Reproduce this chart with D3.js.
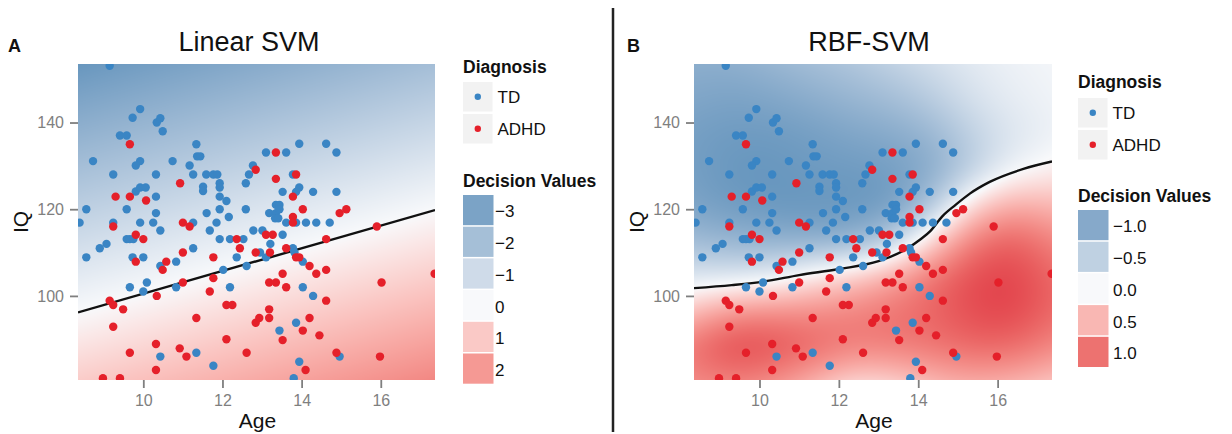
<!DOCTYPE html>
<html>
<head>
<meta charset="utf-8">
<script src="https://cdn.jsdelivr.net/npm/d3@7"></script>
<style>
  body { margin: 0; background: #fff; }
  text { font-family: "Liberation Sans", Arial, Helvetica, sans-serif; }
</style>
</head>
<body>
<div id="chart"></div>
<script>
// ---- data ----
const tdAge = [9.15, 9.92, 9.73, 10.34, 10.43, 10.49, 9.41, 9.58, 8.73, 9.92, 9.81, 10.74, 11.34, 11.36, 11.44,
  11.17, 11.26, 9.24, 10.32, 11.51, 11.51, 11.59, 11.77, 11.87, 11.93, 11.93, 11.93, 12.10, 9.81, 9.92, 10.06,
  10.32, 9.58, 8.56, 10.32, 11.60, 11.93, 12.16, 12.59, 12.67, 12.77, 12.59, 13.10, 13.61, 13.78, 13.52, 13.86,
  13.94, 14.29, 13.35, 13.44, 13.18, 13.35, 13.44, 13.94, 14.62, 14.88, 14.88, 8.39, 9.24, 9.92, 10.25, 10.43,
  11.26, 11.68, 11.85, 12.78, 13.01, 13.52, 13.33, 13.41, 13.61, 13.86, 14.11, 14.37, 14.71, 8.56, 8.90, 9.07,
  9.58, 9.66, 9.75, 9.73, 10.00, 10.43, 10.83, 11.26, 9.66, 10.00, 10.09, 10.83, 12.02, 12.19, 11.93, 12.19,
  12.53, 12.36, 12.61, 12.95, 13.10, 13.21, 13.78, 13.82, 14.03, 14.03, 14.29, 13.44, 13.86, 10.43, 11.34,
  11.77, 13.80, 13.94, 14.96];
const tdIQ = [153.1, 143.1, 141.1, 140.0, 141.0, 138.0, 137.0, 137.0, 131.1, 131.1, 130.1, 131.1, 135.0, 132.2, 132.2,
  130.1, 128.0, 128.0, 128.0, 125.2, 124.2, 128.0, 128.0, 128.0, 126.0, 125.0, 122.9, 121.9, 124.1, 125.0, 125.0,
  122.9, 120.0, 120.0, 119.1, 119.1, 120.0, 118.2, 126.0, 128.0, 130.1, 120.0, 133.1, 133.1, 128.0, 124.0, 124.0,
  125.0, 124.0, 121.0, 121.0, 119.1, 119.1, 120.0, 135.1, 135.1, 133.1, 124.0, 116.9, 116.9, 116.9, 116.9, 115.1,
  116.9, 115.1, 116.9, 115.1, 115.1, 114.1, 117.9, 117.9, 116.9, 116.9, 116.9, 116.9, 116.9, 108.9, 111.0, 112.0,
  113.1, 113.1, 113.1, 108.9, 108.9, 106.9, 107.9, 111.0, 102.0, 101.0, 103.1, 102.0, 106.0, 102.0, 113.1, 113.1,
  113.1, 108.9, 106.9, 110.0, 108.9, 112.0, 111.0, 110.0, 107.9, 102.0, 100.0, 92.0, 93.8, 86.0, 86.9,
  83.9, 81.0, 84.8, 86.0];

const adhdAge = [9.66, 10.93, 9.30, 9.66, 10.07, 12.84, 13.35, 13.35, 13.86, 13.78, 14.03, 13.78, 13.78, 14.96, 15.13,
  9.24, 11.00, 11.17, 13.10, 13.27, 15.90, 9.81, 10.00, 9.81, 10.49, 10.58, 11.00, 10.34, 11.00, 11.68, 11.77,
  11.77, 12.36, 12.44, 12.84, 13.20, 13.61, 13.86, 13.94, 14.20, 14.37, 14.62, 14.62, 13.52, 13.18, 13.35, 13.61,
  14.62, 16.02, 17.36, 9.15, 9.24, 9.49, 9.24, 11.34, 12.10, 12.25, 12.84, 12.93, 13.18, 13.18, 13.52, 14.03,
  14.20, 14.45, 12.10, 9.66, 10.32, 10.92, 11.09, 10.32, 12.61, 8.98, 9.41, 14.10, 14.88, 15.98];
const adhdIQ = [135.0, 126.0, 122.9, 122.9, 122.0, 129.1, 133.1, 127.0, 128.0, 122.9, 120.0, 118.2, 116.9, 119.1, 120.0,
  116.0, 116.9, 116.0, 114.1, 114.1, 116.0, 114.1, 113.1, 107.9, 106.0, 107.9, 110.0, 100.0, 103.1, 101.0, 104.1,
  108.9, 113.1, 111.0, 110.0, 110.0, 111.0, 108.9, 108.9, 106.9, 105.1, 106.0, 113.1, 105.1, 103.1, 103.1, 102.0,
  98.9, 103.1, 105.1, 98.9, 97.9, 96.9, 92.9, 94.9, 97.9, 97.9, 93.8, 94.9, 96.9, 94.9, 89.8, 92.0,
  94.9, 90.9, 90.0, 86.9, 88.9, 87.9, 86.0, 82.9, 86.9, 81.0, 81.0, 82.9, 86.9, 86.0];

// linear SVM decision values at the panel corners (rows: top IQ, bottom IQ)
const linearGridAge = [8.35, 17.37];
const linearGridIQ = [153.5, 80.6];
const linearGrid = [
  [-3.44, -2.02],
  [0.94, 2.35]
];
const linearBoundary = [[8.35, 96.2], [17.37, 119.8]];

// RBF-SVM decision values read on a coarse grid
const rbfGridAge = [8.35, 9.35, 10.35, 11.35, 12.35, 13.35, 14.35, 15.35, 16.35, 17.37];
const rbfGridIQ = [153.5, 145.4, 137.3, 129.2, 121.1, 113.0, 104.9, 96.8, 88.7, 80.6];
const rbfGrid = [
  [-0.95, -0.95, -0.85, -0.75, -0.65, -0.50, -0.35, -0.20, -0.10, -0.05],
  [-1.05, -1.10, -1.05, -0.95, -0.85, -0.75, -0.55, -0.30, -0.15, -0.08],
  [-1.15, -1.20, -1.20, -1.15, -1.05, -1.00, -0.85, -0.50, -0.25, -0.12],
  [-1.15, -1.25, -1.25, -1.20, -1.20, -1.15, -1.00, -0.55, -0.10, 0.05],
  [-1.10, -1.20, -1.25, -1.25, -1.25, -1.20, -0.70, 0.25, 0.60, 0.50],
  [-0.80, -0.90, -0.95, -1.00, -0.95, -0.60, 0.25, 0.95, 1.15, 0.90],
  [-0.30, -0.30, -0.20, 0.10, 0.30, 0.60, 1.00, 1.25, 1.30, 1.10],
  [0.45, 0.75, 0.80, 0.80, 0.90, 1.00, 1.10, 1.25, 1.30, 1.10],
  [1.05, 1.30, 1.25, 1.10, 0.95, 0.95, 1.00, 1.10, 1.10, 0.90],
  [0.85, 0.95, 0.85, 0.60, 0.30, 0.35, 0.55, 0.65, 0.60, 0.45]
];
const rbfBoundary = [[8.35, 101.8], [9.3, 102.5], [10.1, 103.3], [11.0, 104.8], [12.0, 106.2], [13.0, 108.0],
  [13.7, 110.8], [14.05, 113.0], [14.31, 115.0], [14.6, 118.3], [14.94, 121.0], [15.3, 123.6],
  [15.8, 126.3], [16.65, 129.3], [17.37, 131.0]];

const ageTicks = [10, 12, 14, 16];
const iqTicks = [100, 120, 140];
const classNames = ["TD", "ADHD"];
const linearLegendValues = [-3, -2, -1, 0, 1, 2];
const linearLegendLabels = ["\u22123", "\u22122", "\u22121", "0", "1", "2"];
const rbfLegendValues = [-1, -0.5, 0, 0.5, 1];
const rbfLegendLabels = ["\u22121.0", "\u22120.5", "0.0", "0.5", "1.0"];

// ---- styling ----
const blueFull = "#6595bd", midWhite = "#f8f9fb", redFull = "#e3464e";
const tdColor = "#3a85c4", adhdColor = "#e5202a";
const grey = "#7f7f7f";
const panelTop = 64, panelBottom = 380;

const svg = d3.select("#chart").append("svg")
  .attr("width", 1232)
  .attr("height", 434);

const panels = [
  {
    letter: "A", letterX: 8, title: "Linear SVM", titleX: 249, x0: 78, x1: 435,
    gridAge: linearGridAge, gridIQ: linearGridIQ, grid: linearGrid, limit: 3.5,
    boundary: linearBoundary,
    leg: { x: 463, diagY: 73, keyTop: 82, dvY: 187, boxTop: 195, labelX: 495,
           values: linearLegendValues, labels: linearLegendLabels }
  },
  {
    letter: "B", letterX: 627, title: "RBF-SVM", titleX: 869, x0: 694, x1: 1052,
    gridAge: rbfGridAge, gridIQ: rbfGridIQ, grid: rbfGrid, limit: 1.27,
    boundary: rbfBoundary,
    leg: { x: 1078, diagY: 88, keyTop: 98, dvY: 202, boxTop: 210, labelX: 1113,
           values: rbfLegendValues, labels: rbfLegendLabels }
  }
];

panels.forEach((p, pi) => {
  const x = d3.scaleLinear().domain([8.35, 17.37]).range([p.x0, p.x1]);
  const y = d3.scaleLinear().domain([80.6, 153.5]).range([panelBottom, panelTop]);
  const color = d3.scaleLinear()
    .domain([-p.limit, 0, p.limit])
    .range([blueFull, midWhite, redFull])
    .interpolate(d3.interpolateLab)
    .clamp(true);

  const g = svg.append("g");

  // ----- decision surface raster -----
  const w = p.x1 - p.x0, h = panelBottom - panelTop;
  const canvas = document.createElement("canvas");
  canvas.width = w; canvas.height = h;
  const ctx = canvas.getContext("2d");
  const img = ctx.createImageData(w, h);
  const nc = p.gridAge.length - 1, nr = p.gridIQ.length - 1;
  const colIdx = d3.scaleLinear().domain(p.gridAge).range(d3.range(nc + 1)).clamp(true);
  const rowIdx = d3.scaleLinear().domain(p.gridIQ).range(d3.range(nr + 1)).clamp(true);
  const colInterp = d3.range(nc + 1).map(j => d3.interpolateBasis(p.grid.map(r => r[j])));
  const lut = d3.range(1001).map(i => d3.rgb(color(-p.limit + 2 * p.limit * i / 1000)));
  for (let py = 0; py < h; py++) {
    const v = rowIdx(y.invert(panelTop + py + 0.5)) / nr;
    const rowInterp = d3.interpolateBasis(colInterp.map(f => f(v)));
    for (let px = 0; px < w; px++) {
      const val = rowInterp(colIdx(x.invert(p.x0 + px + 0.5)) / nc);
      const li = Math.max(0, Math.min(1000, Math.round((val + p.limit) / (2 * p.limit) * 1000)));
      const c = lut[li];
      const k = (py * w + px) * 4;
      img.data[k] = c.r; img.data[k + 1] = c.g; img.data[k + 2] = c.b; img.data[k + 3] = 255;
    }
  }
  ctx.putImageData(img, 0, 0);
  g.append("image")
    .attr("x", p.x0).attr("y", panelTop)
    .attr("width", w).attr("height", h)
    .attr("preserveAspectRatio", "none")
    .attr("href", canvas.toDataURL());

  // clip for marks
  svg.append("clipPath").attr("id", "clip" + pi)
    .append("rect").attr("x", p.x0).attr("y", panelTop).attr("width", w).attr("height", h);
  const marks = g.append("g").attr("clip-path", `url(#clip${pi})`);

  // ----- decision boundary -----
  marks.append("path")
    .datum(p.boundary)
    .attr("d", d3.line().x(d => x(d[0])).y(d => y(d[1])).curve(d3.curveMonotoneX))
    .attr("fill", "none")
    .attr("stroke", "#111")
    .attr("stroke-width", 2.4);

  // ----- points -----
  const pts = tdAge.map((a, i) => ({ age: a, iq: tdIQ[i], c: tdColor }))
    .concat(adhdAge.map((a, i) => ({ age: a, iq: adhdIQ[i], c: adhdColor })));
  marks.selectAll("circle")
    .data(pts)
    .enter()
    .append("circle")
    .attr("cx", d => x(d.age))
    .attr("cy", d => y(d.iq))
    .attr("r", 4.2)
    .attr("fill", d => d.c);

  // ----- axes -----
  const xAxis = g.append("g")
    .attr("transform", `translate(0,${panelBottom})`)
    .call(d3.axisBottom(x).tickValues(ageTicks).tickSize(8).tickPadding(7));
  const yAxis = g.append("g")
    .attr("transform", `translate(${p.x0},0)`)
    .call(d3.axisLeft(y).tickValues(iqTicks).tickSize(8).tickPadding(6));
  [xAxis, yAxis].forEach(ax => {
    ax.select(".domain").remove();
    ax.selectAll(".tick line").attr("stroke", grey).attr("stroke-width", 1.8);
    ax.selectAll(".tick text")
      .attr("fill", grey)
      .style("font-size", "16px")
      .style("font-family", "'Liberation Sans', Arial, sans-serif");
  });

  g.append("text")
    .attr("x", (p.x0 + p.x1) / 2 + 1)
    .attr("y", 428)
    .attr("text-anchor", "middle")
    .style("font-size", "21px")
    .attr("fill", "#111")
    .text("Age");

  g.append("text")
    .attr("transform", `translate(${p.x0 - 50},${(panelTop + panelBottom) / 2}) rotate(-90)`)
    .attr("text-anchor", "middle")
    .style("font-size", "21px")
    .attr("fill", "#111")
    .text("IQ");

  // ----- titles -----
  g.append("text")
    .attr("x", p.titleX)
    .attr("y", 51)
    .attr("text-anchor", "middle")
    .style("font-size", "27px")
    .attr("fill", "#111")
    .text(p.title);

  g.append("text")
    .attr("x", p.letterX)
    .attr("y", 52)
    .style("font-size", "18px")
    .style("font-weight", "700")
    .attr("fill", "#111")
    .text(p.letter);

  // ----- legends -----
  const L = p.leg;
  g.append("text")
    .attr("x", L.x).attr("y", L.diagY)
    .style("font-size", "17.5px").style("font-weight", "700")
    .attr("fill", "#111")
    .text("Diagnosis");

  classNames.forEach((name, i) => {
    const ky = L.keyTop + i * 32;
    g.append("rect")
      .attr("x", L.x).attr("y", ky)
      .attr("width", 29.5).attr("height", 29.5)
      .attr("fill", "#f2f2f2");
    g.append("circle")
      .attr("cx", L.x + 14.8).attr("cy", ky + 14.8)
      .attr("r", 3.2)
      .attr("fill", i === 0 ? tdColor : adhdColor);
    g.append("text")
      .attr("x", L.x + 34.5).attr("y", ky + 15.5)
      .attr("dy", "0.35em")
      .style("font-size", "17px")
      .attr("fill", "#111")
      .text(name);
  });

  g.append("text")
    .attr("x", L.x).attr("y", L.dvY)
    .style("font-size", "17.5px").style("font-weight", "700")
    .attr("fill", "#111")
    .text("Decision Values");

  L.values.forEach((v, i) => {
    const by = L.boxTop + i * 31.7;
    g.append("rect")
      .attr("x", L.x).attr("y", by)
      .attr("width", 30.5).attr("height", 30.2)
      .attr("fill", color(v));
    g.append("text")
      .attr("x", L.labelX).attr("y", by + 16.5)
      .attr("dy", "0.35em")
      .style("font-size", "17px")
      .attr("fill", "#111")
      .text(L.labels[i]);
  });
});

// ----- divider between panels -----
svg.append("line")
  .attr("x1", 613).attr("x2", 613)
  .attr("y1", 8).attr("y2", 432)
  .attr("stroke", "#222")
  .attr("stroke-width", 2.5);
</script>
</body>
</html>
